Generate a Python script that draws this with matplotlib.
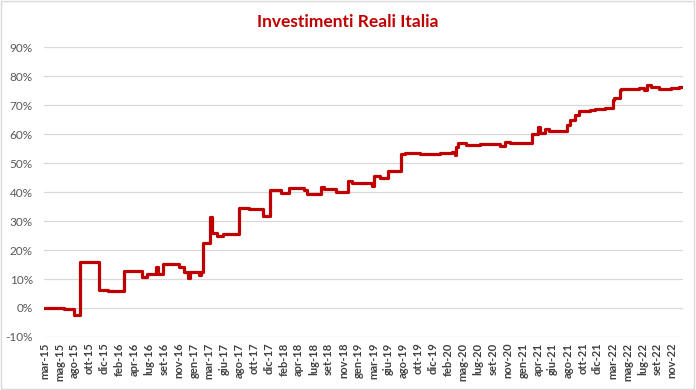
import matplotlib
matplotlib.use("Agg")
import matplotlib.pyplot as plt
from matplotlib.patches import Rectangle
from matplotlib.ticker import FuncFormatter

# Category labels shown on the x axis (one every few trading days in the source)
tick_labels = [
    "mar-15", "mag-15", "ago-15", "ott-15", "dic-15", "feb-16", "apr-16", "lug-16",
    "set-16", "nov-16", "gen-17", "mar-17", "giu-17", "ago-17", "ott-17", "dic-17",
    "feb-18", "apr-18", "lug-18", "set-18", "nov-18", "gen-19", "mar-19", "giu-19",
    "ago-19", "ott-19", "dic-19", "feb-20", "mag-20", "lug-20", "set-20", "nov-20",
    "gen-21", "apr-21", "giu-21", "ago-21", "ott-21", "dic-21", "mar-22", "mag-22",
    "lug-22", "set-22", "nov-22",
]

# Step changes of the series: position along the label axis and value (%)
pos = [
    0.0, 1.27, 2.0, 2.4, 3.67, 4.27, 5.33, 6.53, 6.87, 7.47, 7.6, 7.93,
    9.0, 9.33, 9.6, 9.73, 10.33, 10.47, 10.6, 11.07, 11.2, 11.53, 11.93,
    13.0, 13.67, 14.6, 15.07, 15.8, 16.33, 17.33, 17.53, 18.47, 18.67,
    19.47, 20.27, 20.6, 21.93, 22.07, 22.47, 23.0, 23.87, 24.13, 25.13,
    26.47, 27.27, 27.47, 27.53, 27.67, 28.0, 28.2, 29.13, 30.47, 30.8,
    31.13, 32.6, 33.0, 33.13, 33.47, 33.73, 34.93, 35.13, 35.47, 35.73,
    36.47, 36.8, 37.47, 38.0, 38.13, 38.47, 38.6, 39.13, 39.8, 40.13,
    40.33, 40.6, 41.13, 41.93, 42.47, 42.67,
]
value = [
    0.0, -0.3, -2.4, 15.9, 6.2, 5.9, 12.8, 10.7, 11.7, 14.1, 11.7, 15.2,
    14.2, 12.4, 10.3, 12.5, 11.4, 12.5, 22.5, 31.4, 25.9, 24.8, 25.5,
    34.6, 34.0, 31.7, 40.7, 39.8, 41.5, 40.6, 39.2, 41.8, 40.9,
    40.1, 43.9, 43.3, 42.1, 45.5, 44.7, 47.4, 53.1, 53.6, 53.0,
    53.6, 53.9, 52.8, 55.4, 56.8, 57.0, 56.2, 56.6, 55.9, 57.4,
    57.1, 59.9, 62.3, 60.5, 61.6, 61.1, 63.1, 64.8, 66.6, 68.0,
    68.3, 68.8, 69.1, 71.7, 72.3, 75.2, 75.4, 75.7, 75.9, 75.2,
    76.9, 76.3, 75.4, 76.0, 76.3, 76.3,
]

plt.rcParams["font.family"] = ["Lato", "DejaVu Sans"]

fig = plt.figure(figsize=(6.96, 3.9), dpi=100)
fig.patches.append(Rectangle((0.002, 0.003), 0.995, 0.994, transform=fig.transFigure,
                             fill=False, edgecolor="#d9d9d9", linewidth=1))
ax = fig.add_axes([0.063, 0.136, 0.918, 0.743])

ax.plot(pos, value, drawstyle="steps-post", color="#c00000", linewidth=2.3)

ax.set_ylim(-10, 90)
ax.set_yticks(range(-10, 91, 10))
ax.yaxis.set_major_formatter(FuncFormatter(lambda v, _: f"{v:.0f}%"))
ax.set_xlim(-0.05, 42.7)
ax.set_xticks(range(len(tick_labels)))
ax.set_xticklabels(tick_labels, rotation=90, fontsize=8, fontweight="bold", color="#404040")
ax.tick_params(axis="y", labelsize=8.5, labelcolor="#595959", length=0, pad=8)
ax.tick_params(axis="x", length=0, pad=4)

ax.grid(axis="y", color="#d9d9d9", linewidth=0.9)
ax.set_axisbelow(True)
for s in ax.spines.values():
    s.set_visible(False)

fig.text(0.5, 0.943, "Investimenti Reali Italia", ha="center", va="center",
         fontsize=12.5, fontweight="bold", color="#c00000")

fig.savefig("out.png", dpi=100)
